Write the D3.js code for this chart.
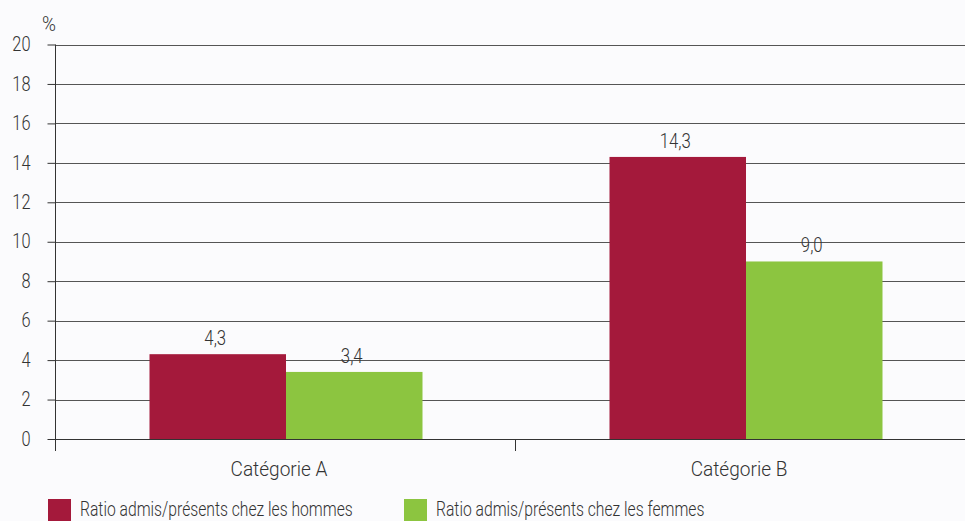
<!DOCTYPE html>
<html><head><meta charset="utf-8">
<script src="https://cdn.jsdelivr.net/npm/d3@7"></script>
<style>
html,body{margin:0;padding:0;background:#fbfbfd;}
svg text{font-family:Roboto,"Liberation Sans",sans-serif;font-weight:300;fill:#333;}
</style></head>
<body>
<svg id="chart" width="965" height="521"></svg>
<script>
const categories = ["Catégorie A", "Catégorie B"];
const seriesNames = ["Ratio admis/présents chez les hommes", "Ratio admis/présents chez les femmes"];
const hommes = [4.3, 14.3];
const femmes = [3.4, 9.0];
const yTicks = [0, 2, 4, 6, 8, 10, 12, 14, 16, 18, 20];
const colors = ["#a4193b", "#8cc540"];

const svg = d3.select("#chart");
const mLeft = 55, mRight = 975, mTop = 44.5, mBottom = 439;

function squeeze(sel, sx) {
  sel.each(function () {
    const t = d3.select(this);
    const x0 = +t.attr("x") || 0;
    t.attr("x", x0 / sx).attr("transform", `scale(${sx},1)`);
  });
}

const x = d3.scaleBand().domain(categories).range([mLeft + 1, mRight + 1]).paddingInner(0).paddingOuter(0);
const xs = d3.scaleBand().domain([0, 1]).range([0, x.bandwidth()]).paddingInner(0).paddingOuter(0.685);
const y = d3.scaleLinear().domain([0, 20]).range([mBottom, mTop]);

// gridlines
svg.append("g").selectAll("line").data(yTicks).join("line")
  .attr("x1", mLeft).attr("x2", 965)
  .attr("y1", d => Math.round(y(d)) + 0.5).attr("y2", d => Math.round(y(d)) + 0.5)
  .attr("stroke", d => d === 0 ? "#333" : "#555").attr("stroke-width", 1);

// bars
const series = [hommes, femmes];
series.forEach((vals, si) => {
  svg.append("g").selectAll("rect").data(categories).join("rect")
    .attr("x", (c) => x(c) + xs(si))
    .attr("width", xs.bandwidth())
    .attr("y", (c, i) => y(vals[i]))
    .attr("height", (c, i) => y(0) - y(vals[i]))
    .attr("fill", colors[si]);
  const lab = svg.append("g").selectAll("text").data(categories).join("text")
    .attr("x", (c) => x(c) + xs(si) + xs.bandwidth() / 2 - 2.5)
    .attr("y", (c, i) => y(vals[i]) - 9)
    .attr("text-anchor", "middle")
    .style("font-size", "19.5px")
    .text((c, i) => vals[i].toFixed(1).replace(".", ","));
  squeeze(lab, 0.86);
});

// y axis
const yAxis = d3.axisLeft(y).tickValues(yTicks).tickSize(8).tickPadding(17).tickFormat(d3.format("d"));
const ga = svg.append("g").attr("transform", `translate(${mLeft + 0.5},0)`).call(yAxis);
ga.attr("font-family", null).attr("font-size", null);
ga.select(".domain").remove();
ga.selectAll(".tick line").attr("stroke", "#333");
const tt = ga.selectAll(".tick text").style("font-size", "19.5px").attr("fill", "#333");
squeeze(tt, 0.84);
ga.append("line").attr("x1", 0).attr("x2", 0).attr("y1", mTop).attr("y2", 451).attr("stroke", "#333");

// x axis category ticks
svg.append("g").selectAll("line").data([categories[1]]).join("line")
  .attr("x1", d => x(d) - 0.5).attr("x2", d => x(d) - 0.5)
  .attr("y1", mBottom).attr("y2", 451).attr("stroke", "#333");
const cl = svg.append("g").selectAll("text").data(categories).join("text")
  .attr("x", d => x(d) + x.bandwidth() / 2 - 7)
  .attr("y", 476)
  .attr("text-anchor", "middle")
  .style("font-size", "20.5px")
  .text(d => d);
squeeze(cl, 0.93);

// unit
squeeze(svg.append("text").attr("x", 42).attr("y", 31).style("font-size", "19.5px").text("%"), 0.97);

// legend
const legX = [48, 404];
seriesNames.forEach((n, i) => {
  svg.append("rect").attr("x", legX[i]).attr("y", 499).attr("width", 23).attr("height", 23).attr("fill", colors[i]);
  squeeze(svg.append("text").attr("x", legX[i] + 32).attr("y", 516.5).style("font-size", "19.5px").text(n), 0.805);
});
</script>
</body></html>
